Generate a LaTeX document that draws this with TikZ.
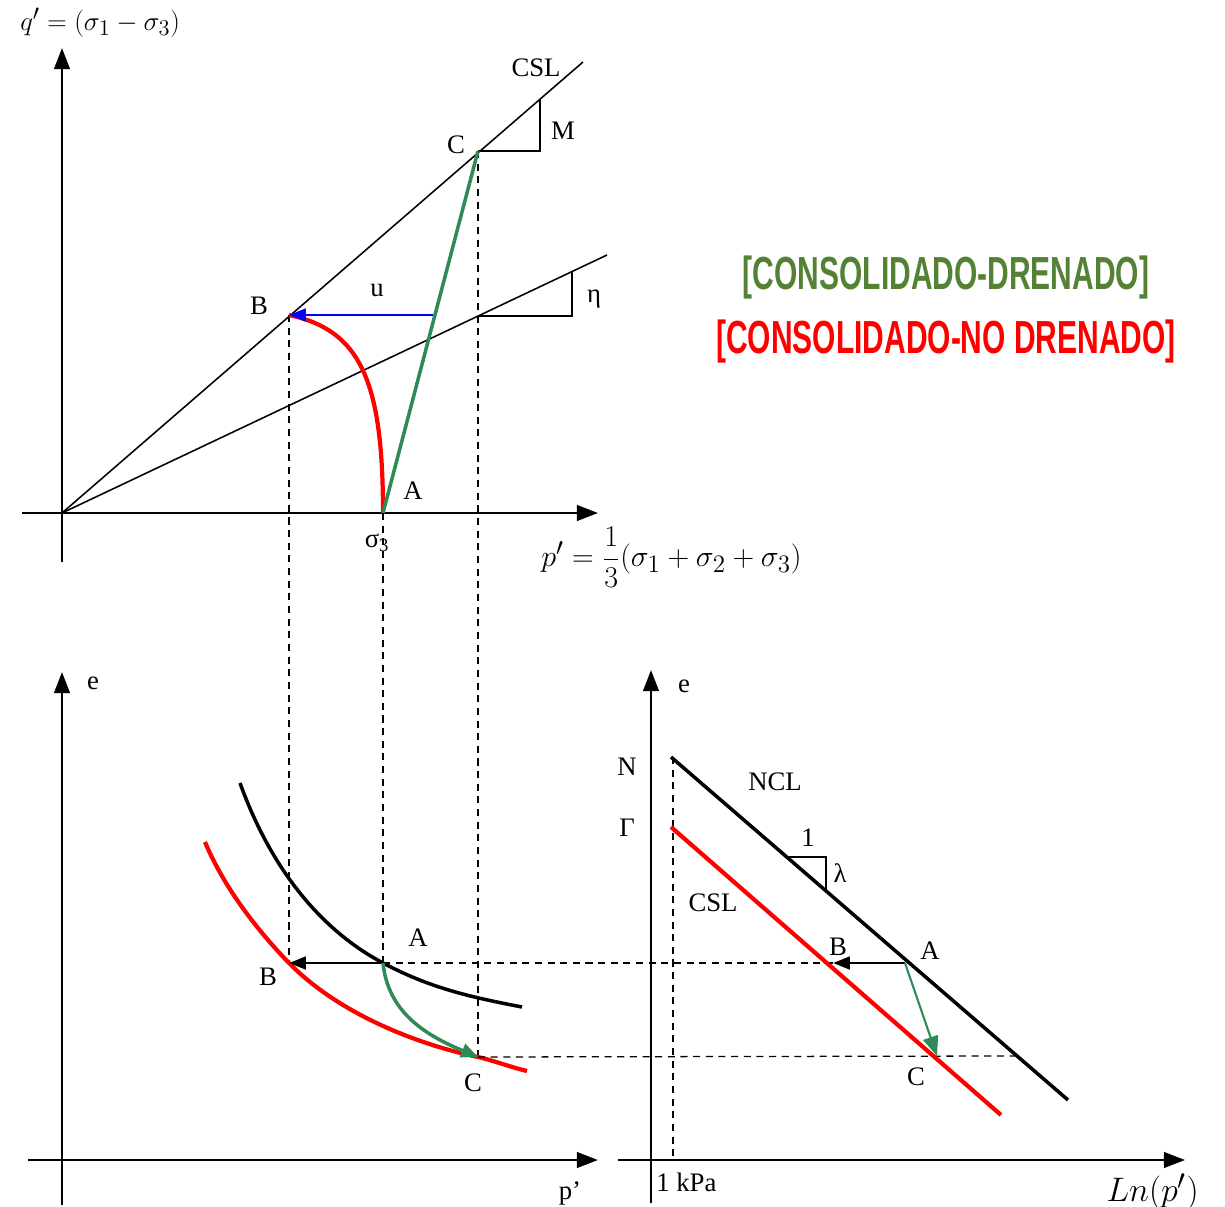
\documentclass[tikz,border=0pt]{standalone}
\usepackage{fontspec}
\setmainfont{Liberation Serif}
\newfontfamily\condsans{Liberation Sans}
\usepackage{graphicx}
\usetikzlibrary{arrows.meta}
\definecolor{dgreen}{RGB}{46,139,87}
\definecolor{tgreen}{RGB}{84,130,53}
\begin{document}
\begin{tikzpicture}[x=0.025cm,y=-0.025cm,
  axis/.style={line width=2pt,-{Triangle[length=15pt,width=11pt]}},
  thinln/.style={line width=1.1pt},
  dashln/.style={line width=0.9pt,dash pattern=on 5pt off 4pt},
  lbl/.style={font=\fontsize{19}{22}\selectfont,inner sep=0pt},
  redc/.style={red,line width=3pt},
  greenc/.style={dgreen,line width=2.5pt},
  title/.style={inner sep=0pt,font=\condsans\bfseries\fontsize{33}{36}\selectfont}
]
\useasboundingbox (0,0) rectangle (1225,1207);

% ---------------- top diagram ----------------
\coordinate (O) at (62,513);
\coordinate (qbot) at (62,562);
\coordinate (qtop) at (62,48);
\coordinate (pleft) at (22,513);
\coordinate (pright) at (598,513);
\coordinate (Cq) at (478,151);
\coordinate (Bq) at (289,315);
\coordinate (Aq) at (383,513);
\coordinate (CSLend) at (583,62);
\coordinate (Etaend) at (607,255);
\coordinate (Mc) at (540,151);
\coordinate (Mt) at (540,99);
\coordinate (Ec1) at (478,316);
\coordinate (Ec2) at (572,316);
\coordinate (Ec3) at (572,272);
\coordinate (ustart) at (433,315);

\draw[axis] (qbot) -- (qtop);
\draw[axis] (pleft) -- (pright);
\draw[thinln] (O) -- (CSLend);
\draw[thinln] (O) -- (Etaend);
\draw[thinln] (Cq) -- (Mc) -- (Mt);
\draw[thinln] (Ec1) -- (Ec2) -- (Ec3);

\node[lbl,anchor=west] (qlab) at (20,23) {\scalebox{1.11}{$q'=(\sigma_1-\sigma_3)$}};
\node[lbl] (csllab) at (536,68) {CSL};
\node[lbl] (mlab) at (563,131) {M};
\node[lbl] (clab) at (456,145) {C};
\node[lbl] (etalab) at (594,299) {η};
\node[lbl] (blab) at (259,306) {B};
\node[lbl] (ulab) at (377,291) {u};
\node[lbl] (alab) at (413,491) {A};
\node[lbl] (s3lab) at (377,543) {σ\textsubscript{3}};
\node[lbl,anchor=west] (plab) at (541,557) {\scalebox{1.24}{$p'=\displaystyle\frac{1}{3}(\sigma_1+\sigma_2+\sigma_3)$}};

% ---------------- bottom-left diagram ----------------
\coordinate (eLbot) at (62,1205);
\coordinate (eLtop) at (62,672);
\coordinate (xLleft) at (28,1160);
\coordinate (xLright) at (598,1160);
\coordinate (Abl) at (383,963);
\coordinate (Bbl) at (289,963);
\coordinate (Cbl) at (478,1057);

% dashed projections
\draw[dashln] (Bq) -- (Bbl);
\draw[dashln] (Aq) -- (Abl);
\draw[dashln] (Cq) -- (Cbl);

\draw[axis] (eLbot) -- (eLtop);
\draw[axis] (xLleft) -- (xLright);

\draw[line width=2.5pt] (240,783) .. controls (275,880) and (330,935) .. (Abl)
   .. controls (430,988) and (470,997) .. (522,1007);
\draw[redc] (205,842) .. controls (225,890) and (260,933) .. (Bbl)
   .. controls (340,1015) and (420,1045) .. (Cbl)
   .. controls (495,1061) and (510,1067) .. (527,1071);

\node[lbl] (elab1) at (93,683) {e};
\node[lbl] (pplab) at (570,1193) {p’};
\node[lbl] (alab2) at (418,938) {A};
\node[lbl] (blab2) at (268,977) {B};
\node[lbl] (clab2) at (473,1083) {C};

% ---------------- bottom-right diagram ----------------
\coordinate (eRbot) at (651,1203);
\coordinate (eRtop) at (651,670);
\coordinate (xRleft) at (618,1160);
\coordinate (xRright) at (1185,1160);
\coordinate (kpaTop) at (673,757);
\coordinate (kpaBot) at (673,1160);
\coordinate (N0) at (671,757);
\coordinate (N1) at (1068,1100);
\coordinate (G0) at (671,827);
\coordinate (G1) at (1001,1115);
\coordinate (Ar) at (905,963);
\coordinate (Br) at (833,963);
\coordinate (Cr) at (937,1056);
\coordinate (NC) at (1015,1056);
\coordinate (L1) at (788,857);
\coordinate (L2) at (826,857);
\coordinate (L3) at (826,890);

\draw[dashln] (Abl) -- (Ar);
\draw[dashln] (Cbl) -- (NC);
\draw[dashln] (kpaTop) -- (kpaBot);

\draw[axis] (eRbot) -- (eRtop);
\draw[axis] (xRleft) -- (xRright);

\draw[line width=2.5pt] (N0) -- (N1);
\draw[redc] (G0) -- (G1);
\draw[thinln] (L1) -- (L2) -- (L3);

\draw[line width=2pt,-{Triangle[length=12pt,width=9pt]}] (Ar) -- (Br);
\draw[dgreen,line width=1.5pt,-{Triangle[length=14pt,width=11pt]}] (Ar) -- (Cr);
\draw[line width=2pt,-{Triangle[length=12pt,width=9pt]}] (Abl) -- (Bbl);
\draw[greenc,-{Triangle[length=12pt,width=10pt]}] (Abl) .. controls (388,1012) and (425,1035) .. (Cbl);

% top-diagram curves drawn last
\draw[redc] (Bq) .. controls (360,330) and (383,380) .. (Aq);
\draw[greenc] (Aq) -- (Cq);
\draw[blue,line width=2pt,-{Triangle[length=12pt,width=9pt]}] (ustart) -- (Bq);

\node[lbl] (elab2) at (684,686) {e};
\node[lbl] (nlab) at (627,767) {N};
\node[lbl] (glab) at (627,828) {Γ};
\node[lbl] (ncllab) at (775,782) {NCL};
\node[lbl] (onelab) at (808,838) {1};
\node[lbl] (lamlab) at (840,873) {λ};
\node[lbl] (csllab2) at (713,903) {CSL};
\node[lbl] (brlab) at (838,947) {B};
\node[lbl] (arlab) at (930,951) {A};
\node[lbl] (crlab) at (916,1077) {C};
\node[lbl,anchor=west] (kpalab) at (656,1182) {1 kPa};
\node[lbl,anchor=east] (lnlab) at (1199,1192) {\scalebox{1.4}{$Ln(p')$}};

% ---------------- titles ----------------
\node[title,text=tgreen] (t1) at (946,278) {\scalebox{0.646}[1]{[CONSOLIDADO-DRENADO]}};
\node[title,text=red] (t2) at (946,342) {\scalebox{0.646}[1]{[CONSOLIDADO-NO DRENADO]}};
\end{tikzpicture}
\end{document}
